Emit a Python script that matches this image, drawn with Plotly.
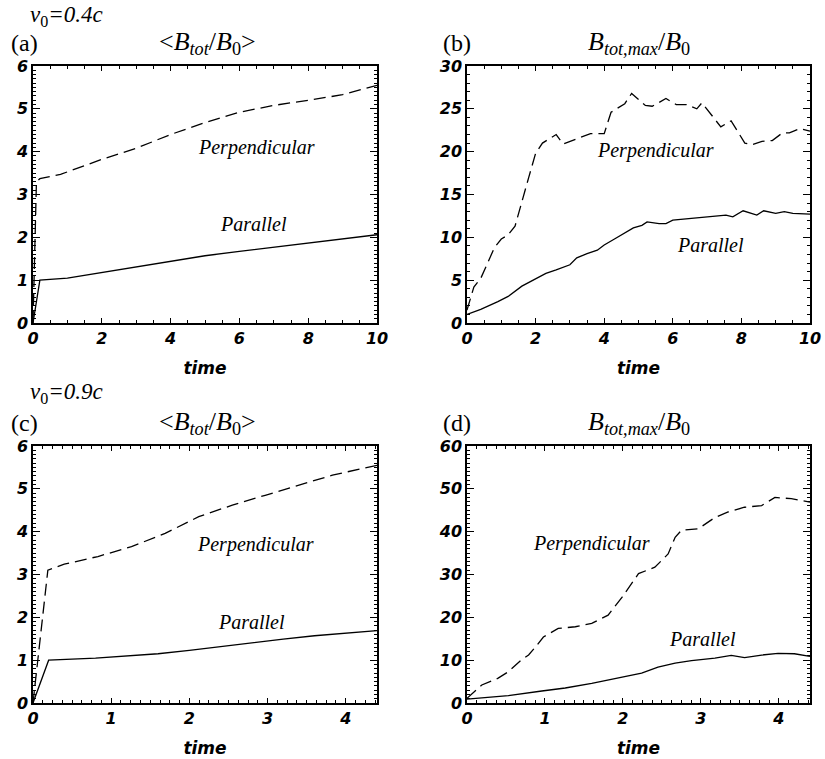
import plotly.graph_objects as go

# ---------------- data ----------------
ta_par = [0, 0.2, 1, 2, 3, 4, 5, 6, 7, 8, 9, 10]
ya_par = [0, 1.0, 1.05, 1.18, 1.3, 1.44, 1.57, 1.67, 1.77, 1.86, 1.96, 2.06]
ta_perp = [0, 0.1, 0.2, 0.8, 2, 3, 4, 5, 6, 7, 8, 9, 10]
ya_perp = [0, 3.3, 3.37, 3.47, 3.82, 4.08, 4.4, 4.68, 4.92, 5.08, 5.2, 5.33, 5.55]

tb_perp = [0, 0.2, 0.4, 0.6, 0.8, 1.0, 1.2, 1.4, 1.6, 1.8, 2.0, 2.2, 2.6, 2.8, 3.2, 3.6,
           4.0, 4.2, 4.6, 4.8, 5.2, 5.4, 5.8, 6.1, 6.4, 6.7, 6.85, 7.1, 7.4, 7.7, 8.1,
           8.3, 8.6, 8.9, 9.2, 9.4, 9.7, 10]
yb_perp = [1.5, 4.2, 5.2, 7.0, 8.8, 9.8, 10.3, 11.3, 14.0, 17.0, 19.8, 21.0, 22.0, 20.9,
           21.5, 22.1, 22.1, 24.6, 25.6, 26.8, 25.4, 25.3, 26.2, 25.5, 25.5, 25.0, 25.7,
           24.4, 22.9, 23.6, 21.0, 20.8, 21.2, 21.3, 22.2, 22.2, 22.7, 22.4]
tb_par = [0, 0.4, 0.9, 1.2, 1.6, 2.0, 2.3, 2.6, 3.0, 3.2, 3.5, 3.8, 4.0, 4.3, 4.6, 4.85,
          5.1, 5.25, 5.6, 5.8, 6.0, 6.6, 7.1, 7.55, 7.75, 8.05, 8.45, 8.65, 9.0, 9.25, 9.5, 10]
yb_par = [1.0, 1.6, 2.5, 3.1, 4.3, 5.2, 5.8, 6.2, 6.8, 7.6, 8.1, 8.5, 9.1, 9.8, 10.5, 11.1,
          11.4, 11.8, 11.6, 11.6, 12.0, 12.2, 12.4, 12.6, 12.4, 13.1, 12.6, 13.1, 12.8, 13.0,
          12.8, 12.7]

tc_perp = [0, 0.19, 0.4, 0.83, 1.26, 1.69, 2.12, 2.55, 2.97, 3.4, 3.83, 4.4]
yc_perp = [0, 3.1, 3.24, 3.42, 3.65, 3.96, 4.35, 4.62, 4.85, 5.09, 5.32, 5.55]
tc_par = [0, 0.2, 0.8, 1.2, 1.6, 2.0, 2.4, 2.8, 3.2, 3.6, 4.0, 4.4]
yc_par = [0, 1.0, 1.05, 1.1, 1.15, 1.23, 1.32, 1.41, 1.49, 1.57, 1.63, 1.69]

td_perp = [0, 0.19, 0.4, 0.53, 0.7, 0.79, 0.88, 0.98, 1.17, 1.39, 1.6, 1.81, 1.99, 2.2,
           2.41, 2.58, 2.67, 2.75, 2.97, 3.18, 3.35, 3.56, 3.78, 3.95, 4.16, 4.4]
yd_perp = [1.1, 4.2, 5.8, 7.3, 10.1, 11.2, 13.1, 15.4, 17.4, 17.8, 18.6, 20.5, 24.7, 30.2,
           31.7, 34.8, 38.7, 40.3, 40.7, 43.3, 44.6, 45.7, 46.1, 48.0, 47.7, 46.9]
td_par = [0, 0.53, 0.96, 1.26, 1.6, 1.81, 2.03, 2.24, 2.45, 2.67, 2.88, 3.18, 3.39, 3.56,
          3.78, 3.99, 4.2, 4.4]
yd_par = [0.9, 1.7, 2.8, 3.5, 4.6, 5.4, 6.2, 7.0, 8.4, 9.3, 9.9, 10.5, 11.1, 10.6, 11.2,
          11.6, 11.5, 10.9]

panel_labels = ["(a)", "(b)", "(c)", "(d)"]
avg_title = "&lt;<i>B</i><sub><i>tot</i></sub>/<i>B</i><sub>0</sub>&gt;"
max_title = "<i>B</i><sub><i>tot,max</i></sub>/<i>B</i><sub>0</sub>"
row_titles = ["<i>v</i><sub>0</sub><i>=0.4c</i>", "<i>v</i><sub>0</sub><i>=0.9c</i>"]
x_label = "time"
perp_label = "Perpendicular"
par_label = "Parallel"

# ---------------- figure ----------------
W, H = 825, 759
fig = go.Figure()

panels = [
    ("x", "y", ta_perp, ya_perp, ta_par, ya_par),
    ("x2", "y2", tb_perp, yb_perp, tb_par, yb_par),
    ("x3", "y3", tc_perp, yc_perp, tc_par, yc_par),
    ("x4", "y4", td_perp, yd_perp, td_par, yd_par),
]
for xa, ya, tp, yp, tq, yq in panels:
    fig.add_trace(go.Scatter(x=tp, y=yp, mode="lines", xaxis=xa, yaxis=ya,
                             line=dict(color="black", width=1.3, dash="12px,6px"),
                             showlegend=False, hoverinfo="skip"))
    fig.add_trace(go.Scatter(x=tq, y=yq, mode="lines", xaxis=xa, yaxis=ya,
                             line=dict(color="black", width=1.3),
                             showlegend=False, hoverinfo="skip"))

tickfont = dict(family="DejaVu Sans", size=16, color="black", style="italic", weight="bold")


def make_axis(domain, rng, dtick, mdtick, anchor, is_x):
    ax = dict(domain=domain, range=rng, anchor=anchor, dtick=dtick, tick0=0,
              automargin=False, showline=True, linecolor="black", linewidth=1.5,
              mirror="allticks", showgrid=False, zeroline=False, tickfont=tickfont,
              ticks="inside", ticklen=5 if is_x else 7, tickwidth=1, tickcolor="black",
              minor=dict(ticks="inside", ticklen=3, dtick=mdtick, tick0=0,
                         tickwidth=1, tickcolor="black"))
    if is_x:
        ax["title"] = dict(text=x_label, font=dict(family="DejaVu Sans", size=17, color="black",
                                                   style="italic", weight="bold"))
    return ax


xl = [33 / W, 377 / W]
xr = [467 / W, 810 / W]
yt = [1 - 323 / H, 1 - 66 / H]
yb = [1 - 703 / H, 1 - 446 / H]

fig.update_layout(
    width=W, height=H, margin=dict(l=0, r=0, t=0, b=0, autoexpand=False),
    paper_bgcolor="white", plot_bgcolor="white",
    xaxis=make_axis(xl, [0, 10], 2, 0.5, "y", True),
    yaxis=make_axis(yt, [0, 6], 1, 0.1, "x", False),
    xaxis2=make_axis(xr, [0, 10], 2, 0.5, "y2", True),
    yaxis2=make_axis(yt, [0, 30], 5, 1, "x2", False),
    xaxis3=make_axis(xl, [0, 4.4], 1, 0.125, "y3", True),
    yaxis3=make_axis(yb, [0, 6], 1, 0.1, "x3", False),
    xaxis4=make_axis(xr, [0, 4.4], 1, 0.125, "y4", True),
    yaxis4=make_axis(yb, [0, 60], 10, 1, "x4", False),
)

serif = "Liberation Serif"
ann = []
for txt, py, anc in zip(row_titles, [0, 393], ["top", "middle"]):
    ann.append(dict(text=txt, x=28 / W, y=1 - py / H, xref="paper", yref="paper",
                    xanchor="left", yanchor=anc, showarrow=False,
                    font=dict(family=serif, size=23, color="black")))
for lab, px, py in zip(panel_labels, [24, 457, 24, 457], [43, 43, 423, 423]):
    ann.append(dict(text=lab, x=px / W, y=1 - py / H, xref="paper", yref="paper",
                    xanchor="center", yanchor="middle", showarrow=False,
                    font=dict(family=serif, size=24, color="black")))
for txt, px, py in zip([avg_title, max_title, avg_title, max_title],
                       [207, 639, 207, 639], [43, 43, 423, 423]):
    ann.append(dict(text=txt, x=px / W, y=1 - py / H, xref="paper", yref="paper",
                    xanchor="center", yanchor="middle", showarrow=False,
                    font=dict(family=serif, size=26, color="black")))
curve_labels = [
    ("x", "y", perp_label, 6.5, 4.1), ("x", "y", par_label, 6.4, 2.3),
    ("x2", "y2", perp_label, 5.5, 20.1), ("x2", "y2", par_label, 7.1, 9.1),
    ("x3", "y3", perp_label, 2.85, 3.71), ("x3", "y3", par_label, 2.8, 1.9),
    ("x4", "y4", perp_label, 1.6, 37.2), ("x4", "y4", par_label, 3.02, 14.9),
]
for xa, ya, txt, x, y in curve_labels:
    ann.append(dict(text="<i>" + txt + "</i>", x=x, y=y, xref=xa, yref=ya,
                    xanchor="center", yanchor="middle", showarrow=False,
                    font=dict(family=serif, size=20, color="black")))
fig.update_layout(annotations=ann)

fig.write_html("out.html", config={"displayModeBar": False},
               post_script="document.body.style.margin='0';document.body.style.padding='0';")
